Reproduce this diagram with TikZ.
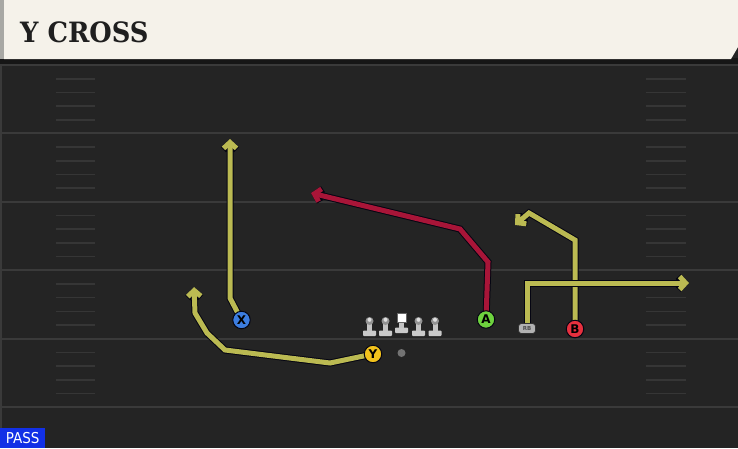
\documentclass[tikz,border=0pt]{standalone}
\usepackage{fontspec}
\usetikzlibrary{arrows.meta,calc}
\newfontfamily\titlefont{DejaVu Serif}
\newfontfamily\labelfont{DejaVu Sans}
\newfontfamily\passfont{DejaVu Sans Condensed}
\definecolor{field}{HTML}{242424}
\definecolor{band}{HTML}{161616}
\definecolor{cream}{HTML}{F5F2EA}
\definecolor{strip}{HTML}{A8A8A4}
\definecolor{yardline}{HTML}{3A3A3A}
\definecolor{hashline}{HTML}{363636}
\definecolor{routeyellow}{HTML}{BBBA52}
\definecolor{routered}{HTML}{A81538}
\definecolor{outline}{HTML}{050512}
\definecolor{xblue}{HTML}{3C7DE0}
\definecolor{yyellow}{HTML}{F2C21C}
\definecolor{agreen}{HTML}{6ED23E}
\definecolor{bred}{HTML}{E6303E}
\definecolor{passblue}{HTML}{1230E6}
\definecolor{linegray}{HTML}{C4C4C4}
\tikzset{
  yard/.style={draw=yardline, line width=2pt},
  hash/.style={draw=hashline, line width=1.6pt},
  route/.style={line width=5pt, line join=miter,
    -{Straight Barb[length=6pt,width=13pt]},
    preaction={draw=outline, line width=7pt}},
  yroute/.style={route, draw=routeyellow},
  rroute/.style={route, draw=routered},
  player/.style={circle, draw=outline, line width=1pt, minimum size=17.5pt,
    inner sep=0pt, font=\labelfont\bfseries\fontsize{12}{12}\selectfont, text=black},
  lmbase/.style={fill=linegray!90!white, rounded corners=0.8pt},
  lmhead/.style={fill=linegray!75!black},
}
\begin{document}
\begin{tikzpicture}[x=1pt,y=-1pt]
\useasboundingbox (0,0) rectangle (738,448);
\fill[field] (0,0) rectangle (738,448);
% header
\fill[band] (0,58) rectangle (738,65);
\fill[cream] (4,0) -- (738,0) -- (738,47) -- (731,59) -- (4,59) -- cycle;
\fill[strip] (0,0) rectangle (4,59);
\node[anchor=base west, inner sep=0pt, text=black!88, xscale=0.92,
  font=\titlefont\bfseries\fontsize{28}{28}\selectfont] (title) at (20,42) {Y CROSS};
% yard lines and hashes
\foreach \y in {65,133.4,201.8,270.2,338.6,407} {
  \draw[yard] (0,\y) -- (738,\y);
}
\foreach \y in {65,133.4,201.8,270.2,338.6} {
  \foreach \k in {1,2,3,4} {
    \draw[hash] (56,\y+13.7*\k) -- (95,\y+13.7*\k);
    \draw[hash] (646,\y+13.7*\k) -- (686,\y+13.7*\k);
  }
}
\fill[yardline] (0,65) rectangle (1.5,448);
% waypoints
\coordinate (x1) at (230,298);
\coordinate (x2) at (230,139);
\coordinate (y1) at (330,363);
\coordinate (y2) at (225,350);
\coordinate (y3) at (207,333);
\coordinate (y4) at (195,313);
\coordinate (y5) at (194,287);
\coordinate (a1) at (488,262);
\coordinate (a2) at (460,229);
\coordinate (a3) at (311,193);
\coordinate (b1) at (575,240);
\coordinate (b2) at (529,213);
\coordinate (b3) at (515,225);
\coordinate (r1) at (527,283);
\coordinate (r2) at (689,283);
% players (positions)
\coordinate (Xp) at (241.5,320);
\coordinate (Yp) at (373,354);
\coordinate (Ap) at (486,319.5);
\coordinate (Bp) at (575,329);
\coordinate (RBp) at (527,328.5);
% routes
\draw[yroute] (Xp) -- (x1) -- (x2);
\draw[yroute] (Yp) -- (y1) -- (y2) -- (y3) -- (y4) -- (y5);
\draw[rroute] (Ap) -- (a1) -- (a2) -- (a3);
\draw[yroute] (Bp) -- (b1) -- (b2) -- (b3);
\draw[yroute] (RBp) -- (r1) -- (r2);
% player nodes
\node[player, fill=xblue] (X) at (Xp) {X};
\node[player, fill=yyellow] (Y) at (Yp) {Y};
\node[player, fill=agreen] (A) at (Ap) {A};
\node[player, fill=bred] (B) at (Bp) {B};
\node[draw=black!80, fill=black!30, rounded corners=3pt, minimum width=17pt,
  minimum height=10pt, inner sep=0pt, line width=0.7pt,
  font=\labelfont\bfseries\fontsize{5.5}{5.5}\selectfont, text=black!70] (RB) at (RBp) {RB};
% ball
\node[circle, fill=black!55, minimum size=8pt, inner sep=0pt] (ball) at (401.5,353) {};
% linemen
\foreach \lx in {369.5,385.5,418.5,435} {
  \fill[lmbase] (\lx-6.5,330.5) rectangle (\lx+6.5,336);
  \fill[linegray] (\lx-2.5,323) rectangle (\lx+2.5,331);
  \fill[lmhead] (\lx,321) circle (4pt);
  \fill[linegray!55!white] (\lx,319.8) circle (2pt);
}
\fill[lmbase] (395,327.5) rectangle (408,333);
\fill[linegray] (399,321) rectangle (404,328);
\node[draw=black!60, fill=white, minimum size=9pt, inner sep=0pt, line width=0.5pt] (center) at (401.5,317.5) {};
% pass tag
\node[fill=passblue, anchor=south west, minimum width=45pt, minimum height=20pt,
  inner sep=0pt, text=white, font=\passfont\fontsize{15}{15}\selectfont] (pass) at (0,448) {PASS};
\end{tikzpicture}
\end{document}
